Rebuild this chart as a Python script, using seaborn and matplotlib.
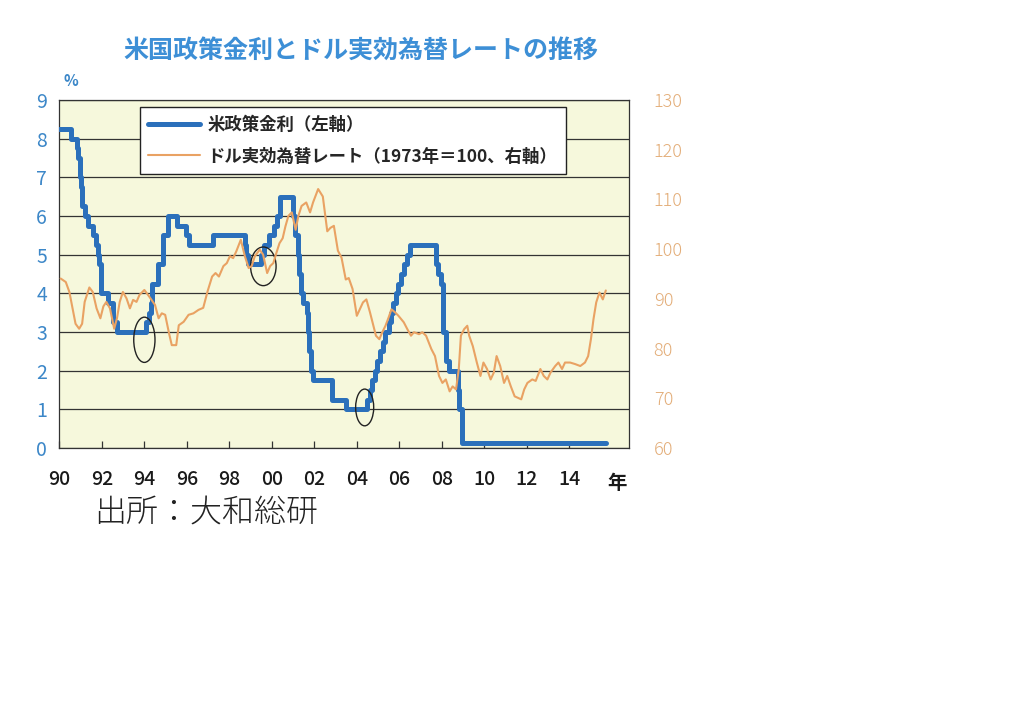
import pandas as pd
import matplotlib
matplotlib.use("Agg")
import matplotlib.pyplot as plt
from matplotlib.patches import Ellipse
from matplotlib.lines import Line2D
import seaborn as sns

# US policy rate (target), change dates and levels, %
rate_date = [1990.0, 1990.54, 1990.82, 1990.87, 1990.96, 1990.97, 1991.02, 1991.08, 1991.19, 1991.33,
             1991.6, 1991.7, 1991.83, 1991.87, 1991.94, 1991.96, 1992.27, 1992.5, 1992.69, 1994.09,
             1994.22, 1994.3, 1994.38, 1994.62, 1994.87, 1995.09, 1995.52, 1995.97, 1996.08, 1997.23,
             1998.74, 1998.79, 1998.87, 1999.5, 1999.65, 1999.88, 2000.09, 2000.22, 2000.38, 2001.01,
             2001.08, 2001.22, 2001.3, 2001.38, 2001.49, 2001.64, 2001.71, 2001.76, 2001.85, 2001.95,
             2002.85, 2003.49, 2004.49, 2004.61, 2004.72, 2004.86, 2004.96, 2005.08, 2005.22, 2005.34,
             2005.5, 2005.61, 2005.72, 2005.84, 2005.96, 2006.08, 2006.22, 2006.36, 2006.49, 2007.72,
             2007.83, 2007.95, 2008.06, 2008.08, 2008.21, 2008.33, 2008.77, 2008.83, 2008.96, 2015.75]
rate_level = [8.25, 8.0, 7.75, 7.5, 7.25, 7.0, 6.75, 6.25, 6.0, 5.75,
              5.5, 5.25, 5.0, 4.75, 4.5, 4.0, 3.75, 3.25, 3.0, 3.25,
              3.5, 3.75, 4.25, 4.75, 5.5, 6.0, 5.75, 5.5, 5.25, 5.5,
              5.25, 5.0, 4.75, 5.0, 5.25, 5.5, 5.75, 6.0, 6.5, 6.0,
              5.5, 5.0, 4.5, 4.0, 3.75, 3.5, 3.0, 2.5, 2.0, 1.75,
              1.25, 1.0, 1.25, 1.5, 1.75, 2.0, 2.25, 2.5, 2.75, 3.0,
              3.25, 3.5, 3.75, 4.0, 4.25, 4.5, 4.75, 5.0, 5.25, 4.75,
              4.5, 4.25, 3.5, 3.0, 2.25, 2.0, 1.5, 1.0, 0.125, 0.125]

# dollar real effective exchange rate (1973 = 100)
fx_year = [1990.06, 1990.30, 1990.47, 1990.76, 1990.93, 1991.07, 1991.19, 1991.41, 1991.57, 1991.75,
           1991.93, 1992.07, 1992.21, 1992.38, 1992.58, 1992.71, 1992.84, 1992.99, 1993.16, 1993.32,
           1993.47, 1993.63, 1993.77, 1994.00, 1994.24, 1994.50, 1994.67, 1994.82, 1994.98, 1995.16,
           1995.29, 1995.50, 1995.62, 1995.85, 1996.08, 1996.31, 1996.55, 1996.77, 1996.98, 1997.19,
           1997.35, 1997.51, 1997.72, 1997.88, 1998.03, 1998.18, 1998.33, 1998.54, 1998.73, 1998.91,
           1999.05, 1999.20, 1999.43, 1999.59, 1999.78, 1999.92, 2000.07, 2000.21, 2000.36, 2000.51,
           2000.64, 2000.78, 2000.94, 2001.12, 2001.25, 2001.40, 2001.62, 2001.80, 2001.94, 2002.18,
           2002.40, 2002.61, 2002.76, 2002.92, 2003.11, 2003.28, 2003.48, 2003.62, 2003.80, 2004.00,
           2004.14, 2004.29, 2004.45, 2004.62, 2004.90, 2005.06, 2005.20, 2005.35, 2005.50, 2005.63,
           2005.80, 2005.96, 2006.21, 2006.38, 2006.55, 2006.69, 2006.93, 2007.08, 2007.26, 2007.51,
           2007.68, 2007.87, 2008.03, 2008.19, 2008.37, 2008.51, 2008.67, 2008.80, 2008.90, 2009.05,
           2009.20, 2009.29, 2009.46, 2009.65, 2009.82, 2009.96, 2010.13, 2010.30, 2010.45, 2010.58,
           2010.75, 2010.93, 2011.08, 2011.25, 2011.43, 2011.59, 2011.74, 2011.88, 2012.03, 2012.26,
           2012.42, 2012.64, 2012.80, 2012.97, 2013.12, 2013.34, 2013.49, 2013.66, 2013.80, 2014.04,
           2014.27, 2014.52, 2014.74, 2014.89, 2015.02, 2015.14, 2015.27, 2015.42, 2015.58, 2015.72]
fx_value = [94.1, 93.4, 91.4, 85.0, 84.0, 85.0, 89.4, 92.3, 91.4, 88.1,
            86.1, 88.5, 89.4, 88.1, 84.0, 86.1, 89.4, 91.4, 90.1, 88.1,
            89.8, 89.4, 90.8, 91.8, 90.4, 88.8, 86.1, 87.1, 86.8, 83.1,
            80.7, 80.7, 84.7, 85.4, 86.8, 87.1, 87.8, 88.2, 91.6, 94.5,
            95.2, 94.5, 96.6, 97.2, 98.6, 98.2, 99.6, 101.9, 98.6, 96.2,
            96.6, 98.6, 99.9, 98.9, 95.2, 96.6, 97.2, 99.2, 101.2, 102.2,
            104.6, 106.7, 107.4, 103.9, 106.7, 108.7, 109.4, 107.4, 109.4, 112.1,
            110.6, 103.6, 104.3, 104.7, 99.7, 98.3, 93.9, 94.2, 92.0, 86.6,
            87.9, 89.3, 89.9, 87.3, 82.6, 81.9, 83.3, 84.6, 86.3, 87.9,
            87.3, 86.6, 85.3, 83.9, 82.6, 83.3, 82.9, 83.3, 82.6, 79.9,
            78.5, 74.5, 73.1, 73.8, 71.4, 72.4, 71.8, 75.9, 82.6, 83.9,
            84.6, 82.6, 80.5, 77.2, 74.5, 77.2, 75.9, 73.8, 75.2, 78.5,
            76.5, 73.1, 74.5, 72.4, 70.4, 70.1, 69.8, 71.8, 73.1, 73.8,
            73.5, 75.9, 74.5, 73.8, 75.2, 76.5, 77.2, 75.9, 77.2, 77.2,
            76.9, 76.5, 77.2, 78.5, 81.9, 85.9, 89.3, 91.3, 89.9, 91.7]

x_ticks = [1990, 1992, 1994, 1996, 1998, 2000, 2002, 2004, 2006, 2008, 2010, 2012, 2014]
x_labels = ["90", "92", "94", "96", "98", "00", "02", "04", "06", "08", "10", "12", "14"]

# circled spots (year, rate, width, height)
circles = [(1994.0, 2.8, 1.0, 1.17), (1999.6, 4.7, 1.2, 1.0), (2004.37, 1.05, 0.85, 0.95)]

title = "米国政策金利とドル実効為替レートの推移"
label_rate = "米政策金利（左軸）"
label_fx = "ドル実効為替レート（1973年＝100、右軸）"

BLUE = "#2b70bb"
ORANGE = "#e9a263"

sns.set_theme(style="white")
plt.rcParams['font.family'] = ['Noto Sans CJK JP', 'DejaVu Sans']

rate_df = pd.DataFrame({"year": rate_date, "rate": rate_level})
fx_df = pd.DataFrame({"year": fx_year, "fx": fx_value})

fig = plt.figure(figsize=(10.24, 7.25), dpi=100)
ax = fig.add_axes([0.058, 0.382, 0.556, 0.48])
ax.set_facecolor("#f6f8dc")

sns.lineplot(data=rate_df, x="year", y="rate", ax=ax, color=BLUE, linewidth=3.6,
             drawstyle="steps-post", zorder=3)
ax.set_xlim(1990, 2016.8)
ax.set_ylim(0, 9)
ax.set_yticks(range(0, 10))
ax.yaxis.grid(True, color="#333333", linewidth=0.9)
ax.set_axisbelow(True)
ax.set_xticks(x_ticks)
ax.set_xticklabels(x_labels, fontweight="medium")
ax.tick_params(axis="x", bottom=True, direction="in", length=5, width=0.9, color="#333333",
               pad=16, labelsize=14, labelcolor="#1a1a1a")
ax.tick_params(axis="y", length=0, pad=9, labelsize=14, labelcolor="#3c87c8")
ax.set_xlabel("")
ax.set_ylabel("")
for s in ax.spines.values():
    s.set_color("#333333")
    s.set_linewidth(0.9)

for cx, cy, w, h in circles:
    ax.add_patch(Ellipse((cx, cy), w, h, fill=False, edgecolor="#222222", linewidth=1.0, zorder=5))

ax2 = ax.twinx()
sns.lineplot(data=fx_df, x="year", y="fx", ax=ax2, color=ORANGE, linewidth=1.5)
ax2.set_ylim(60, 130)
ax2.set_yticks(range(60, 131, 10))
ax2.set_yticklabels([str(v) for v in range(60, 131, 10)], fontweight="light")
ax2.tick_params(axis="y", length=0, pad=18, labelsize=13, labelcolor="#e3ad78")
ax2.set_ylabel("")
ax2.grid(False)
for s in ax2.spines.values():
    s.set_visible(False)

handles = [Line2D([], [], color=BLUE, linewidth=3.6), Line2D([], [], color=ORANGE, linewidth=1.5)]
leg = ax2.legend(handles, [label_rate, label_fx], loc="upper left", bbox_to_anchor=(0.135, 0.99),
                 prop={"size": 12.5, "weight": "bold"}, frameon=True, fancybox=False,
                 handlelength=3.0, labelspacing=0.8, borderpad=0.5, handletextpad=0.4,
                 borderaxespad=0.2)
leg.get_frame().set_edgecolor("#222222")
leg.get_frame().set_linewidth(1.0)
leg.get_frame().set_facecolor("white")
leg.get_frame().set_alpha(1)

fig.text(0.352, 0.93, title, ha="center", va="center", fontsize=18, fontweight="bold", color="#3d8fd6")
fig.text(0.062, 0.888, "%", ha="left", va="center", fontsize=11, fontweight="bold", color="#3c87c8")
fig.text(0.603, 0.333, "年", ha="center", va="center", fontsize=14, fontweight="bold", color="#1a1a1a")
fig.text(0.092, 0.293, "出所：大和総研", ha="left", va="center", fontsize=23,
         fontweight="light", color="#222222")

fig.savefig("out.png", dpi=100, facecolor="white")
